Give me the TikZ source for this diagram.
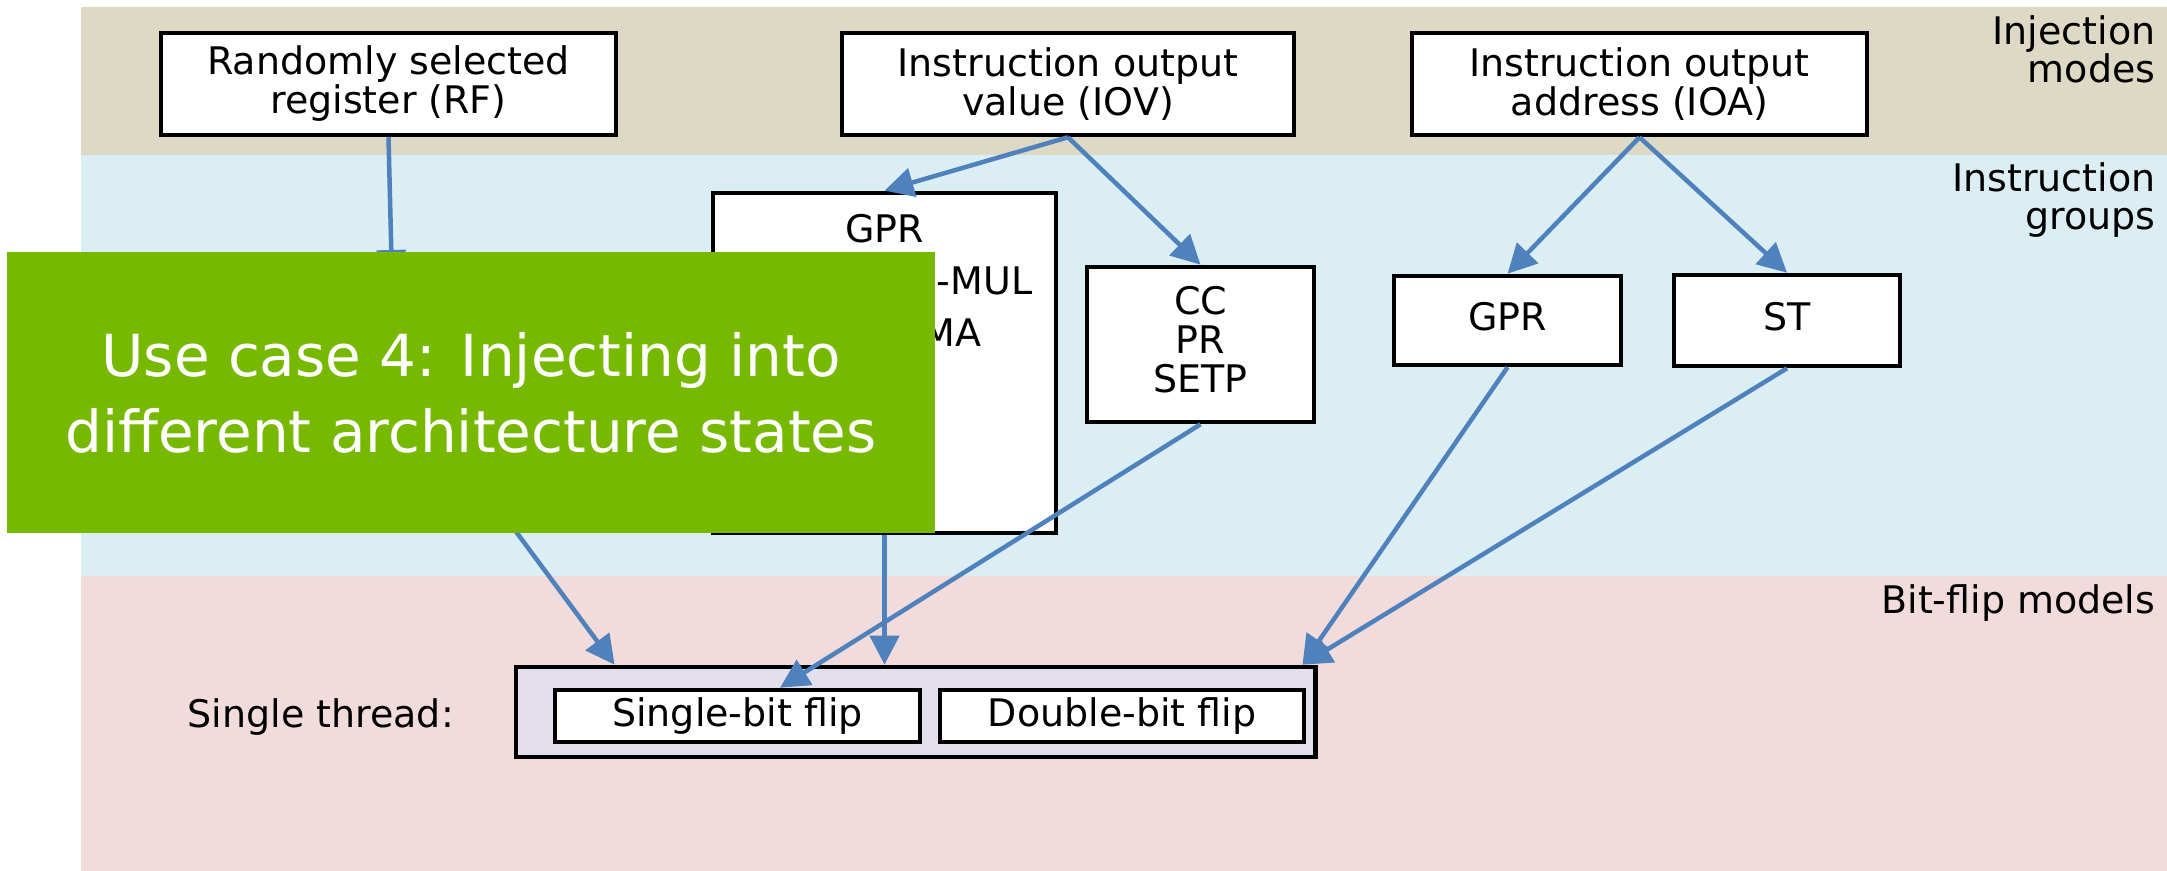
\documentclass[tikz,border=0pt]{standalone}
\usepackage{fontspec}
\setmainfont{DejaVu Sans}
\usetikzlibrary{arrows.meta,calc}
\definecolor{tanband}{RGB}{221,217,196}
\definecolor{blueband}{RGB}{219,238,244}
\definecolor{pinkband}{RGB}{242,220,219}
\definecolor{lavender}{RGB}{228,223,236}
\definecolor{arrowblue}{RGB}{79,129,189}
\definecolor{nvgreen}{RGB}{118,185,0}
\begin{document}
\begin{tikzpicture}[x=0.01cm,y=-0.01cm,
  box/.style={draw=black, line width=0.045cm, fill=white, inner sep=0pt, align=center, font=\fontsize{10.8}{11.1}\selectfont},
  lbl/.style={inner sep=0pt, font=\fontsize{10.8}{11.1}\selectfont},
  arr/.style={draw=arrowblue, line width=0.045cm, -{Triangle[length=0.29cm,width=0.29cm]}},
]
\useasboundingbox (0,0) rectangle (2167,871);
\fill[white] (0,0) rectangle (2167,871);
\fill[tanband] (81,7) rectangle (2167,155);
\fill[blueband] (81,155) rectangle (2167,576);
\fill[pinkband] (81,576) rectangle (2167,871);

% band labels
\node[lbl, anchor=base east] (injA) at (2156,45) {Injection};
\node[lbl, anchor=base east] (injB) at (2156,83) {modes};
\node[lbl, anchor=base east] (grpA) at (2156,192) {Instruction};
\node[lbl, anchor=base east] (grpB) at (2156,230) {groups};
\node[lbl, anchor=base east] (bfm) at (2156,614) {Bit-flip models};

% injection modes
\node[box, minimum width=4.55cm, minimum height=1.02cm] (rf) at (388.5,84) {Randomly selected\\register (RF)};
\node[box, minimum width=4.52cm, minimum height=1.02cm] (iov) at (1068,84) {Instruction output\\value (IOV)};
\node[box, minimum width=4.55cm, minimum height=1.02cm] (ioa) at (1639.5,84) {Instruction output\\address (IOA)};

% instruction groups
\node[box, minimum width=3.43cm, minimum height=3.40cm] (gprbig) at (884.5,363) {};
\node[lbl, anchor=base] (gprA) at (884.5,243) {GPR};
\node[lbl, anchor=base east] (gprB) at (1033,295) {-MUL};
\node[lbl, anchor=base east] (gprC) at (982,347) {MA};
\node[box, minimum width=2.27cm, minimum height=1.55cm, text depth=0.1cm] (cc) at (1200.5,344.5) {CC\\PR\\SETP};
\node[box, minimum width=2.27cm, minimum height=0.89cm, text depth=0.08cm] (gpr2) at (1507.5,320.5) {GPR};
\node[box, minimum width=2.26cm, minimum height=0.91cm, text depth=0.08cm] (st) at (1787,320.5) {ST};

% bit-flip models
\node[lbl, anchor=base west] (stl) at (187,728) {Single thread:};
\node[box, fill=lavender, minimum width=7.99cm, minimum height=0.90cm] (outer) at (915.5,712) {};
\node[box, minimum width=3.65cm, minimum height=0.52cm] (sbf) at (737.5,716) {Single-bit flip};
\node[box, minimum width=3.64cm, minimum height=0.52cm] (dbf) at (1122,716) {Double-bit flip};

% hidden ends under the overlay
\coordinate (rfend) at (392,279);
\coordinate (hidA) at (480,483);

% connectors
\draw[arr] (rf.south) -- (rfend);
\draw[arr] (iov.south) -- (gprbig.north);
\draw[arr] (iov.south) -- (cc.north);
\draw[arr] (ioa.south) -- (gpr2.north);
\draw[arr] (ioa.south) -- (st.north);
\draw[arr] (hidA) -- ([xshift=1.01cm]outer.north west);
\draw[arr] (gprbig.south) -- (gprbig.south |- outer.north);
\draw[arr] (cc.south) -- ([xshift=0.425cm]sbf.north);
\draw[arr] (gpr2.south) -- ([xshift=-0.15cm]outer.north east);
\draw[arr] (st.south) -- ([xshift=-0.15cm]outer.north east);

% overlay
\node[fill=nvgreen, minimum width=9.28cm, minimum height=2.81cm, inner sep=0pt, text=white, align=center, font=\fontsize{16.5}{21.6}\selectfont] (uc) at (471,392.5) {Use case 4: Injecting into\\different architecture states};
\end{tikzpicture}
\end{document}
